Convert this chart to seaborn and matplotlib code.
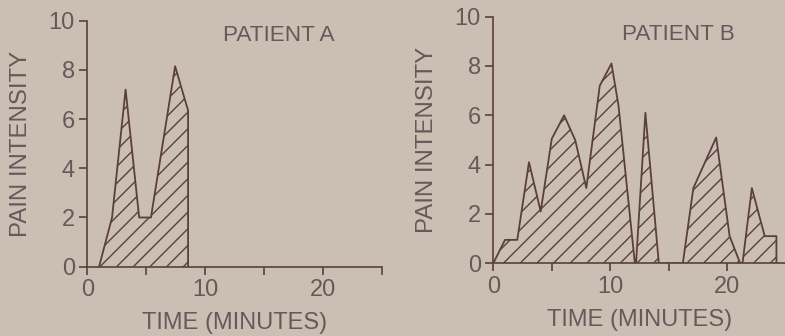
import matplotlib
matplotlib.use("Agg")
import matplotlib.pyplot as plt
import seaborn as sns
import pandas as pd

# ---- data ----
a_time = [1.0, 2.1, 3.25, 4.4, 5.4, 7.45, 8.55, 8.55]
a_pain = [0.0, 2.0, 7.2, 2.0, 2.0, 8.15, 6.35, 0.0]

b_time = [0.0, 1.0, 2.05, 3.05, 4.05, 5.0, 6.05, 7.0, 7.95, 9.1, 10.1, 10.7,
          12.1, 12.2, 13.0, 14.15, 16.2, 17.1, 19.05, 20.2, 21.1, 21.3,
          22.1, 23.2, 24.2, 24.2]
b_pain = [0.0, 0.95, 0.95, 4.1, 2.1, 5.05, 6.0, 5.0, 3.05, 7.2, 8.1, 6.4,
          0.0, 0.0, 6.1, 0.0, 0.0, 3.05, 5.1, 1.1, 0.0, 0.0,
          3.05, 1.1, 1.1, 0.0]

titles = ["PATIENT A", "PATIENT B"]
x_ticks = [0, 5, 10, 15, 20, 25]
x_ticklabels = ["0", "", "10", "", "20", ""]
y_ticks = [0, 2, 4, 6, 8, 10]
y_ticklabels = ["0", "2", "4", "6", "8", "10"]
x_label = "TIME (MINUTES)"
y_label = "PAIN INTENSITY"

BG = "#cbbfb3"
INK = "#5b3f3d"
TXT = "#66595a"

sns.set_theme(style="white")
plt.rcParams["font.family"] = ["Liberation Sans", "DejaVu Sans"]
plt.rcParams["hatch.linewidth"] = 1.0

fig = plt.figure(figsize=(7.85, 3.36), dpi=100, facecolor=BG)
ax_a = fig.add_axes([0.1112, 0.2063, 0.3754, 0.732])
ax_b = fig.add_axes([0.6284, 0.2164, 0.3726, 0.734])

panels = [
    (ax_a, a_time, a_pain, titles[0], (16.2, 9.38)),
    (ax_b, b_time, b_pain, titles[1], (15.8, 9.26)),
]

for ax, t, p, title, tpos in panels:
    ax.set_facecolor(BG)
    df = pd.DataFrame({"time": t, "pain": p})
    ax.fill_between(df["time"], 0, df["pain"], facecolor="none",
                    edgecolor=INK, hatch="//", linewidth=0)
    sns.lineplot(data=df, x="time", y="pain", ax=ax, color=INK,
                 linewidth=1.3, sort=False, estimator=None)
    ax.set_xlim(0, 25)
    ax.set_ylim(0, 10)
    ax.set_xticks(x_ticks)
    ax.set_xticklabels(x_ticklabels)
    ax.set_yticks(y_ticks)
    ax.set_yticklabels(y_ticklabels)
    for s in ["top", "right"]:
        ax.spines[s].set_visible(False)
    for s in ["left", "bottom"]:
        ax.spines[s].set_color(INK)
        ax.spines[s].set_linewidth(1.2)
    ax.tick_params(axis="both", direction="out", length=6, width=1.2,
                   color=INK, labelcolor=TXT, labelsize=17, pad=3,
                   left=True, bottom=True)
    ax.set_xlabel(x_label, fontsize=17, color=TXT, labelpad=8)
    ax.set_ylabel(y_label, fontsize=17.3, color=TXT, labelpad=12)
    ax.text(tpos[0], tpos[1], title, fontsize=16.2, color=TXT,
            ha="center", va="center")

fig.savefig("out.png", dpi=100, facecolor=BG)
